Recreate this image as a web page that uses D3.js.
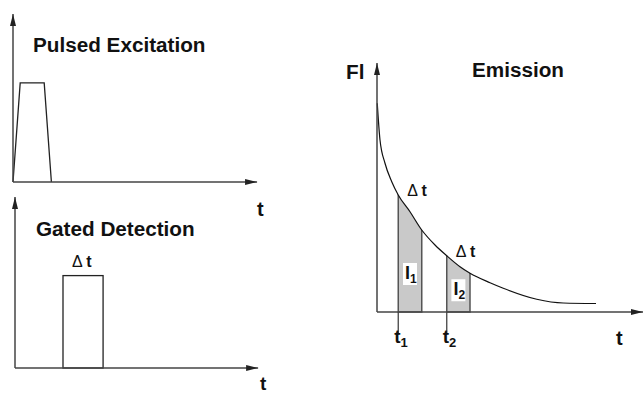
<!DOCTYPE html>
<html>
<head>
<meta charset="utf-8">
<script src="https://cdn.jsdelivr.net/npm/d3@7"></script>
<style>
  body { margin: 0; background: #fff; }
  text { font-family: "Liberation Sans", Arial, sans-serif; font-weight: bold; fill: #111; }
</style>
</head>
<body>
<svg width="644" height="394"></svg>
<script>
// --- data (arbitrary units) ---
var pulseT = [0, 3, 13, 16];          // excitation pulse corners (time)
var pulseI = [0, 59, 59, 0];          // excitation pulse corners (intensity)
var gateT = [20, 36.7];               // detection gate open / close
var gateH = 55;                       // gate height
var decayT = [0.1, 1.2, 3.2, 5.9, 8.5, 13.2, 17.9, 23.2, 27.9, 33.2, 37.2, 45.2, 50.5, 63.9, 74.5, 87.6];
var decayFl = [83.5, 68.8, 59.5, 52.1, 46.8, 40.1, 32.8, 26.8, 22.5, 18.1, 15.5, 11.7, 9.5, 5.1, 3.6, 3.4];
var winStart = [8.5, 27.9];           // t1, t2
var winEnd = [17.9, 37.2];            // t1 + dt, t2 + dt
var winLabels = ["1", "2"];

var svg = d3.select("svg");

svg.append("defs").append("marker")
    .attr("id", "arrow")
    .attr("viewBox", "0 0 12 6")
    .attr("refX", 12).attr("refY", 3)
    .attr("markerUnits", "userSpaceOnUse")
    .attr("markerWidth", 12).attr("markerHeight", 6)
    .attr("orient", "auto")
  .append("path")
    .attr("d", "M0,0L12,3L0,6Z")
    .attr("fill", "#222");

// draws the two arrowed axes of one panel
function axes(g, x, y, xEnd, yEnd) {
  g.append("line")
      .attr("x1", x(0)).attr("y1", y(0))
      .attr("x2", x(xEnd)).attr("y2", y(0))
      .attr("stroke", "#444").attr("stroke-width", 1.5)
      .attr("marker-end", "url(#arrow)");
  g.append("line")
      .attr("x1", x(0)).attr("y1", y(0))
      .attr("x2", x(0)).attr("y2", y(yEnd))
      .attr("stroke", "#444").attr("stroke-width", 1.5)
      .attr("marker-end", "url(#arrow)");
}

// --- Pulsed excitation panel ---
var x1 = d3.scaleLinear().domain([0, 100]).range([13, 253]);
var y1 = d3.scaleLinear().domain([0, 100]).range([182, 14]);
var g1 = svg.append("g");
g1.append("path")
    .datum(d3.zip(pulseT, pulseI))
    .attr("fill", "none")
    .attr("stroke", "#222")
    .attr("stroke-width", 1.3)
    .attr("d", d3.line().x(function(d) { return x1(d[0]); }).y(function(d) { return y1(d[1]); }));
axes(g1, x1, y1, 101.7, 100);
g1.append("text").attr("x", 33).attr("y", 52).style("font-size", "20.7px").text("Pulsed Excitation");
g1.append("text").attr("x", 257).attr("y", 216).style("font-size", "20px").text("t");

// --- Gated detection panel ---
var x2 = d3.scaleLinear().domain([0, 100]).range([15, 255]);
var y2 = d3.scaleLinear().domain([0, 100]).range([368, 200]);
var g2 = svg.append("g");
g2.append("rect")
    .attr("x", x2(gateT[0]))
    .attr("y", y2(gateH))
    .attr("width", x2(gateT[1]) - x2(gateT[0]))
    .attr("height", y2(0) - y2(gateH))
    .attr("fill", "none")
    .attr("stroke", "#222")
    .attr("stroke-width", 1.3);
axes(g2, x2, y2, 101.3, 101.8);
g2.append("text").attr("x", 36).attr("y", 236).style("font-size", "20.7px").text("Gated Detection");
var dt2 = g2.append("text").attr("x", x2(gateT[0]) + 9).attr("y", 267).style("font-size", "16px");
dt2.append("tspan").style("font-weight", "normal").text("\u0394 ");
dt2.append("tspan").text("t");
g2.append("text").attr("x", 260).attr("y", 390).style("font-size", "19px").text("t");

// --- Emission panel ---
var x3 = d3.scaleLinear().domain([0, 100]).range([377, 627]);
var y3 = d3.scaleLinear().domain([0, 100]).range([312, 62]);
var g3 = svg.append("g");
var decay = d3.zip(decayT, decayFl);

var under = d3.area()
    .curve(d3.curveMonotoneX)
    .x(function(d) { return x3(d[0]); })
    .y0(y3(0) + 2)
    .y1(function(d) { return y3(d[1]); });

g3.append("clipPath").attr("id", "under")
  .append("path").attr("d", under(decay));

// shaded integration windows, clipped under the decay curve
g3.selectAll(".win")
  .data(winStart)
  .enter().append("rect")
    .attr("class", "win")
    .attr("clip-path", "url(#under)")
    .attr("x", function(d) { return x3(d); })
    .attr("y", y3(100))
    .attr("width", function(d, i) { return x3(winEnd[i]) - x3(d); })
    .attr("height", y3(0) - y3(100))
    .attr("fill", "#c9c9c9")
    .attr("stroke", "#555")
    .attr("stroke-width", 1.5);

g3.append("path")
    .datum(decay)
    .attr("fill", "none")
    .attr("stroke", "#111")
    .attr("stroke-width", 1.2)
    .attr("d", d3.line().curve(d3.curveMonotoneX)
      .x(function(d) { return x3(d[0]); })
      .y(function(d) { return y3(d[1]); }));

axes(g3, x3, y3, 106.4, 99.6);

// t1, t2 ticks below the axis
g3.selectAll(".tick")
  .data(winStart)
  .enter().append("line")
    .attr("x1", function(d) { return x3(d); })
    .attr("x2", function(d) { return x3(d); })
    .attr("y1", y3(0)).attr("y2", y3(0) + 21)
    .attr("stroke", "#444").attr("stroke-width", 1.3);

winStart.forEach(function(s, i) {
  var t = g3.append("text").attr("x", x3(s) - 4).attr("y", 343).style("font-size", "19px");
  t.append("tspan").text("t");
  t.append("tspan").attr("dy", 4).style("font-size", "13px").text(winLabels[i]);

  // I labels in white boxes
  var cx = (x3(s) + x3(winEnd[i])) / 2;
  var top = y3(decayFl[decayT.indexOf(winEnd[i])]);
  var cy = i === 0 ? top + 44 : top + 17;
  g3.append("rect")
      .attr("x", cx - 7).attr("y", cy - 11)
      .attr("width", 14).attr("height", 22)
      .attr("fill", "#fff");
  var lab = g3.append("text").attr("x", cx - 5).attr("y", cy + 5).style("font-size", "18px");
  lab.append("tspan").text("I");
  lab.append("tspan").attr("dy", 4).style("font-size", "12px").text(winLabels[i]);

  // delta t above each window
  var dt = g3.append("text")
      .attr("x", x3(s) + 9)
      .attr("y", y3(decayFl[decayT.indexOf(s)]) + 1)
      .style("font-size", "16px");
  dt.append("tspan").style("font-weight", "normal").text("\u0394 ");
  dt.append("tspan").text("t");
});

g3.append("text").attr("x", 346).attr("y", 79).style("font-size", "20.7px").text("Fl");
g3.append("text").attr("x", 472).attr("y", 77).style("font-size", "20.7px").text("Emission");
g3.append("text").attr("x", 616).attr("y", 345).style("font-size", "20px").text("t");
</script>
</body>
</html>
